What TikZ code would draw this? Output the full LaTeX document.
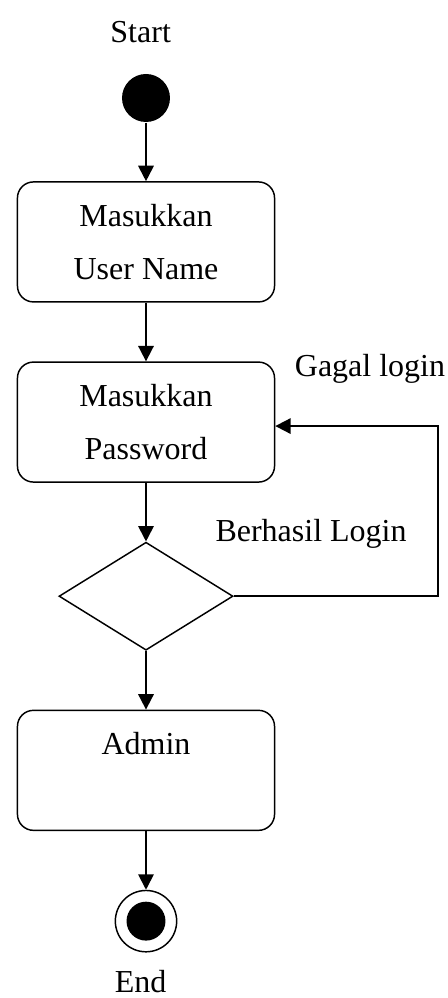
\documentclass[tikz,border=0pt]{standalone}
\usepackage{fontspec}
\setmainfont{Liberation Serif}
\usetikzlibrary{positioning}
\usetikzlibrary{shapes.geometric}
\usetikzlibrary{arrows.meta}

\begin{document}
\begin{tikzpicture}[node distance=22pt,
  font=\fontsize{12pt}{20pt}\selectfont,
  act/.style={draw, rectangle, rounded corners=6pt, line width=0.55pt, minimum width=96.4pt, minimum height=45pt, align=center},
  arr/.style={-{Triangle[length=5.8pt,width=5.8pt]}, line width=0.7pt},
  initstate/.style={circle, fill=black, inner sep=0pt, minimum size=18pt},
  finalstate/.style={circle, draw, line width=0.55pt, inner sep=0pt, minimum size=23pt,
    path picture={\fill (path picture bounding box.center) circle (7.3pt);}},
  choice/.style={draw, diamond, line width=0.55pt, inner sep=0pt, minimum width=65.25pt, minimum height=40.5pt}]
\useasboundingbox (-54.75pt,36.75pt) rectangle (113.25pt,-337.5pt);
\node[initstate] (start) {};
\node (lstart) [above=8pt of start, xshift=-2pt] {Start};
\node[act] (user) [below=of start] {Masukkan\\User Name};
\node[act] (pass) [below=of user] {Masukkan\\Password};
\node[choice] (cek) [below=of pass] {};
\node[act] (admin) [below=of cek] {Admin\\\mbox{}};
\node[finalstate] (finish) [below=of admin] {};
\node (lend) [below=3pt of finish, xshift=-2pt] {End};
\draw[arr] (start) -- (user);
\draw[arr] (user) -- (pass);
\draw[arr] (pass) -- (cek);
\draw[arr] (cek) -- (admin);
\draw[arr] (admin) -- (finish);
% jalur gagal login
\draw[arr] (cek.east) -- ++(76.5pt,0) |- ([yshift=-1.5pt]pass.east);
\node (gagal) at ([xshift=84pt,yshift=19.9pt]pass.center) {Gagal login};
\node (berhasil) at ([xshift=61.9pt,yshift=23.25pt]cek.center) {Berhasil Login};
\end{tikzpicture}
\end{document}
